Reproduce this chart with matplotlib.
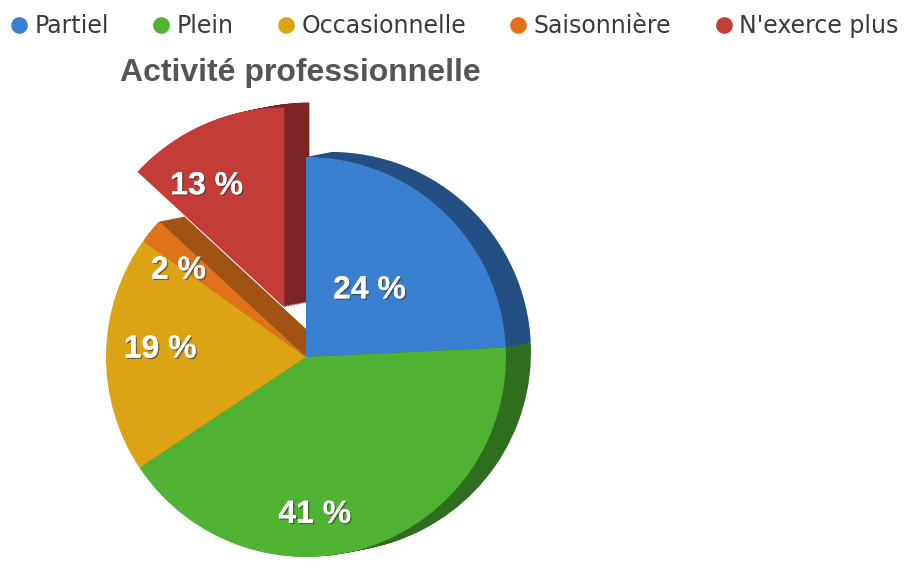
import numpy as np
import matplotlib
matplotlib.use('Agg')
from matplotlib import pyplot as plt
from matplotlib.lines import Line2D
import matplotlib.patheffects as pe

plt.rcParams['font.family'] = ['Liberation Sans', 'DejaVu Sans']

categories = ['Partiel', 'Plein', 'Occasionnelle', 'Saisonnière', "N'exerce plus"]
values = [24, 41, 19, 2, 13]
labels = [f'{v} %' for v in values]
title = 'Activité professionnelle'

top_colors = ['#3a80d0', '#4fb232', '#dca316', '#e07319', '#c43c38']
side_colors = ['#234f82', '#2f6d1f', '#9c720f', '#a05312', '#7a2424']

fig = plt.figure(figsize=(9.09, 5.69), dpi=100)
ax = fig.add_axes([0, 0, 1, 1])

cx, cy, r = 306, 212, 200
explode = [0, 0, 0, 0, 54]
depth_x, depth_y, steps = 25, 5, 16


def frame():
    ax.set_xlim(0, 909)
    ax.set_ylim(0, 569)
    ax.set_aspect('equal')
    ax.axis('off')


# side (depth) of the 3d pie
for k in range(steps, 0, -1):
    ox = depth_x * k / steps
    oy = depth_y * k / steps
    ax.pie(values, colors=side_colors, startangle=90, counterclock=False,
           radius=r, center=(cx + ox, cy + oy), explode=explode,
           wedgeprops=dict(linewidth=0))
    frame()

# top face
wedges, texts = ax.pie(values, colors=top_colors, startangle=90,
                       counterclock=False, radius=r, center=(cx, cy),
                       explode=explode, labels=labels, labeldistance=0.7,
                       wedgeprops=dict(linewidth=0))
frame()

label_r = [0.46, 0.79, 0.73, 0.77, 0.72]
label_shift = [0, -15, -2, 5, 9]
for w, t, lr, sh in zip(wedges, texts, label_r, label_shift):
    ang = np.deg2rad((w.theta1 + w.theta2) / 2 + sh)
    t.set_position((w.center[0] + lr * w.r * np.cos(ang),
                    w.center[1] + lr * w.r * np.sin(ang)))
    t.set_ha('center')
    t.set_va('center')
    t.set_color('white')
    t.set_fontsize(23)
    t.set_fontweight('bold')
    t.set_path_effects([pe.withSimplePatchShadow(offset=(1, -1), shadow_rgbFace='#333333', alpha=0.6),
                        pe.Normal()])

ax.text(120, 496, title, fontsize=23, fontweight='bold', color='#555555',
        ha='left', va='center')

handles = [Line2D([], [], marker='o', linestyle='', markersize=12,
                  markerfacecolor=c, markeredgewidth=0) for c in top_colors]
fig.legend(handles, categories, loc='upper left', bbox_to_anchor=(-0.004, 1.0),
           ncol=5, frameon=False, handletextpad=0.3,
           columnspacing=1.87, handlelength=0.7, borderaxespad=0.2,
           labelcolor='#3a3a3a', prop=dict(family='DejaVu Sans', size=17))

plt.savefig('out.png', dpi=100)
